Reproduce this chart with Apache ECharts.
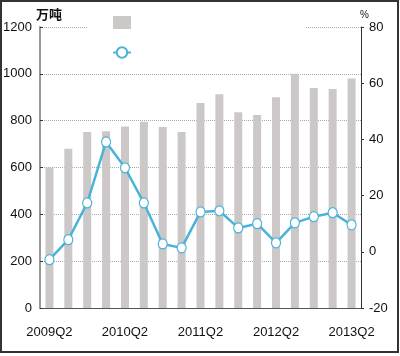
<!DOCTYPE html>
<html>
<head>
<meta charset="utf-8">
<script src="https://cdn.jsdelivr.net/npm/echarts@6/dist/echarts.min.js"></script>
<style>
html,body{margin:0;padding:0;background:#fff;}
#c{width:400px;height:356px;}
</style>
</head>
<body>
<div id="c"></div>
<script>
var categories = ['2009Q2','2009Q3','2009Q4','2010Q1','2010Q2','2010Q3','2010Q4','2011Q1','2011Q2','2011Q3','2011Q4','2012Q1','2012Q2','2012Q3','2012Q4','2013Q1','2013Q2'];
var outputValues = [600, 680, 752, 755, 775, 795, 773, 752, 875, 913, 836, 824, 900, 1000, 940, 935, 980];
var growthValues = [-2.8, 4.3, 17.4, 39.1, 29.9, 17.4, 2.8, 1.4, 14.2, 14.6, 8.5, 10.0, 3.2, 10.3, 12.5, 13.9, 9.6];
var leftTicks = {min: 0, max: 1200, interval: 200};
var rightTicks = {min: -20, max: 80, interval: 20};

var FONT = '"Liberation Sans",sans-serif';
var chart = echarts.init(document.getElementById('c'), null, {renderer: 'canvas'});
chart.setOption({
  animation: false,
  backgroundColor: '#fff',
  grid: {left: 40, right: 39, top: 27, bottom: 48, containLabel: false, outerBoundsMode: 'none'},
  legend: {
    orient: 'vertical', left: 112, top: 16, padding: 0,
    itemWidth: 18, itemHeight: 13, itemGap: 17,
    formatter: function () { return ''; },
    data: [{name: '产量', icon: 'rect'}, {name: '同比增长'}],
    z: 10
  },
  xAxis: {
    type: 'category',
    data: categories,
    boundaryGap: true,
    axisLine: {lineStyle: {color: '#555', width: 1}},
    axisTick: {inside: true, length: 4, interval: 0, lineStyle: {color: '#555'}},
    axisLabel: {interval: 3, margin: 18, fontFamily: FONT, fontSize: 13, color: '#111'},
    splitLine: {show: false}
  },
  yAxis: [{
    type: 'value',
    min: leftTicks.min, max: leftTicks.max, interval: leftTicks.interval,
    name: '万吨',
    nameLocation: 'end',
    nameGap: 3,
    nameTextStyle: {fontFamily: '"Noto Sans CJK SC",sans-serif', fontSize: 13, fontWeight: 'bold', color: '#111', align: 'left', padding: [0, 0, 0, -4]},
    axisLine: {show: true, lineStyle: {color: '#999', width: 2}},
    axisTick: {show: true, inside: true, length: 3, lineStyle: {color: '#333'}},
    axisLabel: {margin: 8, fontFamily: FONT, fontSize: 13, color: '#111', padding: [8, 0, 0, 0],
      formatter: function (v) { return String(v); }},
    splitLine: {show: true, lineStyle: {color: '#aaa', type: 'dotted', width: 1}}
  }, {
    type: 'value',
    position: 'right',
    min: rightTicks.min, max: rightTicks.max, interval: rightTicks.interval,
    name: '%',
    nameLocation: 'end',
    nameGap: 2,
    nameTextStyle: {fontFamily: FONT, fontSize: 10, color: '#111', align: 'left', padding: [0, 0, 0, -1]},
    axisLine: {show: true, lineStyle: {color: '#333', width: 1}},
    axisTick: {show: true, inside: false, length: 3, lineStyle: {color: '#333'}},
    axisLabel: {margin: 8, fontFamily: FONT, fontSize: 13, color: '#111', padding: [8, 0, 0, 0],
      formatter: function (v) { return String(v); }},
    splitLine: {show: false}
  }],
  series: [{
    name: '产量',
    type: 'bar',
    yAxisIndex: 0,
    data: outputValues,
    barWidth: 8,
    itemStyle: {color: '#ccc8c8'}
  }, {
    name: '同比增长',
    type: 'line',
    yAxisIndex: 1,
    data: growthValues,
    symbol: 'circle',
    symbolSize: [9, 10],
    showAllSymbol: true,
    lineStyle: {color: '#4bb2d9', width: 2.5},
    itemStyle: {color: '#fff', borderColor: '#4bb2d9', borderWidth: 1.2},
    z: 5
  }],
  graphic: [{
    type: 'rect', z: 2, silent: true,
    shape: {x: 88, y: 24, width: 218, height: 6},
    style: {fill: '#fff'}
  }, {
    type: 'rect', z: 50, silent: true,
    shape: {x: 1, y: 1, width: 397, height: 351},
    style: {fill: 'none', stroke: '#333', lineWidth: 2}
  }]
});
</script>
</body>
</html>
